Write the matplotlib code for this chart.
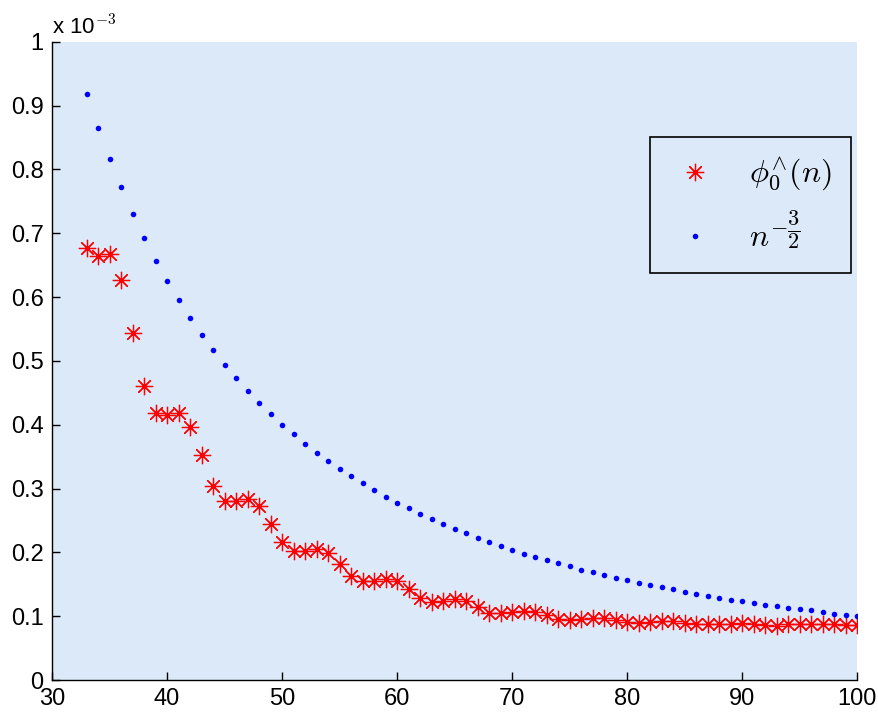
import matplotlib
matplotlib.use("Agg")
import matplotlib.pyplot as plt
import numpy as np

plt.rcParams['font.family'] = ['Liberation Sans', 'DejaVu Sans']
plt.rcParams['mathtext.fontset'] = 'cm'

n_values = list(range(33, 101))

# red stars (units of 1e-3)
phi_values = [0.677, 0.665, 0.667, 0.627, 0.544, 0.461, 0.418, 0.415, 0.418, 0.397,
              0.352, 0.304, 0.280, 0.280, 0.284, 0.273, 0.245, 0.216, 0.202, 0.202,
              0.205, 0.199, 0.181, 0.163, 0.155, 0.155, 0.158, 0.155, 0.143, 0.128,
              0.122, 0.124, 0.127, 0.124, 0.114, 0.105, 0.105, 0.107, 0.108, 0.107,
              0.102, 0.096, 0.094, 0.096, 0.097, 0.097, 0.094, 0.091, 0.089, 0.091,
              0.092, 0.092, 0.090, 0.088, 0.087, 0.088, 0.088, 0.089, 0.087, 0.086,
              0.085, 0.087, 0.088, 0.088, 0.087, 0.087, 0.086, 0.086]

# blue dots (units of 1e-3)
ref_values = [0.918, 0.865, 0.816, 0.772, 0.730, 0.693, 0.657, 0.625, 0.595, 0.567,
              0.541, 0.517, 0.494, 0.473, 0.453, 0.434, 0.416, 0.400, 0.385, 0.370,
              0.356, 0.343, 0.331, 0.319, 0.308, 0.297, 0.287, 0.278, 0.269, 0.260,
              0.252, 0.244, 0.237, 0.230, 0.223, 0.216, 0.210, 0.204, 0.198, 0.193,
              0.188, 0.183, 0.178, 0.173, 0.169, 0.164, 0.160, 0.156, 0.152, 0.149,
              0.145, 0.142, 0.138, 0.135, 0.132, 0.129, 0.126, 0.124, 0.121, 0.118,
              0.116, 0.113, 0.111, 0.109, 0.106, 0.104, 0.102, 0.100]

x_ticks = [30, 40, 50, 60, 70, 80, 90, 100]
y_ticks = [0, 0.1, 0.2, 0.3, 0.4, 0.5, 0.6, 0.7, 0.8, 0.9, 1]
y_tick_labels = ['0', '0.1', '0.2', '0.3', '0.4', '0.5', '0.6', '0.7', '0.8', '0.9', '1']

bg = '#dce9f9'
fig = plt.figure(figsize=(8.79, 7.14), dpi=100)
ax = fig.add_axes([0.0592, 0.0476, 0.916, 0.894])
ax.set_facecolor(bg)

ax.plot(n_values, phi_values, linestyle='none', marker=(8, 2, 0), markersize=12.5,
        markeredgewidth=0.9, color='#ff0000', label=r'$\phi_0^{\wedge}(n)$')
ax.plot(n_values, ref_values, linestyle='none', marker='o', markersize=4.0,
        markeredgewidth=0, color='#0000ff', label=r'$n^{-\dfrac{3}{2}}$')

ax.set_xlim(30, 100)
ax.set_ylim(0, 1)
ax.set_xticks(x_ticks)
ax.set_yticks(y_ticks)
ax.set_yticklabels(y_tick_labels)
ax.tick_params(direction='in', length=6, width=1, labelsize=17, pad=6)
for s in ['top', 'right']:
    ax.spines[s].set_visible(False)
for s in ['left', 'bottom']:
    ax.spines[s].set_linewidth(1.0)

ax.text(0.0, 1.004, r'x 10$^{-3}$', transform=ax.transAxes, fontsize=16,
        ha='left', va='bottom')

leg = ax.legend(loc='upper right', bbox_to_anchor=(0.9925, 0.851), fontsize=23,
                frameon=True, fancybox=False, edgecolor='black', facecolor=bg,
                framealpha=1, borderpad=0.6, labelspacing=0.6, handletextpad=0.9,
                handlelength=1.6, borderaxespad=0)
leg.get_frame().set_linewidth(1.2)

fig.savefig('out.png', dpi=100)
